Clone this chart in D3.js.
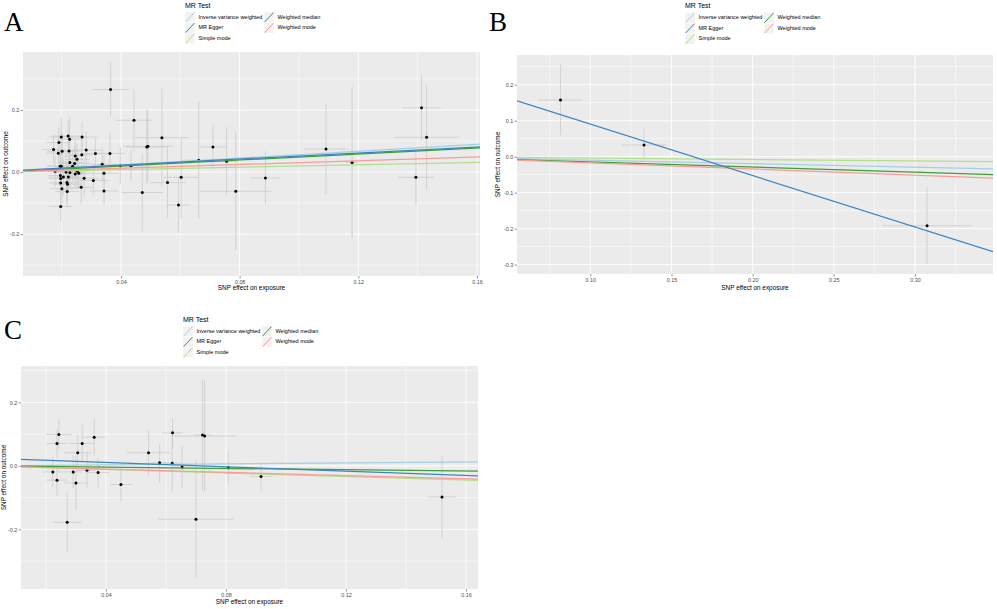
<!DOCTYPE html>
<html>
<head>
<meta charset="utf-8">
<script src="https://cdn.jsdelivr.net/npm/d3@7"></script>
<style>
  body { margin: 0; background: #fff; }
  svg { display: block; }
  text { font-family: "Liberation Sans", Arial, sans-serif; }
</style>
</head>
<body>
<svg id="chart" width="997" height="609"></svg>
<script>
// MR methods, legend order (two columns, filled by column)
const methods = ["Inverse variance weighted", "MR Egger", "Simple mode", "Weighted median", "Weighted mode"];
const methodColors = ["#a6cee3", "#3d85c0", "#b2df8a", "#3ba035", "#fb9a99"];
// draw order of the fitted lines (MR Egger on top)
const drawOrder = [0, 2, 3, 4, 1];

// SNP estimates: [beta exposure, beta outcome, se exposure, se outcome]
const snpA = [
  [0.0173, 0.073, 0.004, 0.045], [0.0191, 0.095, 0.004, 0.05], [0.0199, 0.113, 0.004, 0.06],
  [0.0222, 0.116, 0.005, 0.05], [0.0227, 0.106, 0.004, 0.07], [0.0269, 0.113, 0.005, 0.05],
  [0.0189, 0.061, 0.004, 0.05], [0.0202, 0.067, 0.005, 0.06], [0.0225, 0.068, 0.004, 0.055],
  [0.0283, 0.071, 0.005, 0.06], [0.0268, 0.056, 0.004, 0.05], [0.0246, 0.052, 0.004, 0.055],
  [0.0314, 0.060, 0.005, 0.05], [0.0363, 0.060, 0.005, 0.065], [0.0195, 0.019, 0.004, 0.06],
  [0.0199, 0.019, 0.005, 0.05], [0.0228, 0.031, 0.004, 0.06], [0.0252, 0.041, 0.004, 0.05],
  [0.0244, 0.028, 0.005, 0.055], [0.0237, 0.019, 0.004, 0.05], [0.0178, 0.003, 0.004, 0.05],
  [0.0215, 0.000, 0.004, 0.06], [0.0228, -0.001, 0.005, 0.05], [0.0253, 0.003, 0.004, 0.06],
  [0.0258, -0.004, 0.004, 0.05], [0.0196, -0.011, 0.004, 0.05], [0.0206, -0.016, 0.005, 0.06],
  [0.0223, -0.016, 0.004, 0.05], [0.0246, -0.006, 0.004, 0.05], [0.0197, -0.021, 0.004, 0.05],
  [0.0218, -0.034, 0.004, 0.06], [0.0220, -0.039, 0.005, 0.05], [0.0197, -0.035, 0.004, 0.055],
  [0.0276, -0.020, 0.005, 0.06], [0.0307, -0.027, 0.005, 0.05], [0.0343, -0.004, 0.005, 0.06],
  [0.0266, -0.049, 0.004, 0.055], [0.0201, -0.054, 0.004, 0.05], [0.0219, -0.063, 0.004, 0.05],
  [0.0343, -0.061, 0.005, 0.045], [0.0197, -0.111, 0.004, 0.05], [0.0337, 0.025, 0.005, 0.055],
  [0.0398, 0.020, 0.003, 0.06], [0.0434, 0.020, 0.004, 0.05], [0.0365, 0.266, 0.006, 0.088],
  [0.0444, 0.167, 0.006, 0.10], [0.0487, 0.081, 0.007, 0.12], [0.0491, 0.083, 0.0084, 0.115],
  [0.0538, 0.111, 0.009, 0.158], [0.0472, -0.066, 0.007, 0.126], [0.0557, -0.034, 0.006, 0.113],
  [0.0603, -0.017, 0.006, 0.13], [0.0594, -0.106, 0.004, 0.09], [0.0662, 0.038, 0.006, 0.187],
  [0.0710, 0.081, 0.0045, 0.07], [0.0756, 0.035, 0.004, 0.11], [0.0787, -0.062, 0.012, 0.19],
  [0.0887, -0.019, 0.005, 0.086], [0.1091, 0.074, 0.0073, 0.145], [0.1179, 0.031, 0.002, 0.244],
  [0.1413, 0.207, 0.0065, 0.106], [0.1430, 0.112, 0.011, 0.17], [0.1394, -0.017, 0.006, 0.09]
];
const snpB = [
  [0.0817, 0.1575, 0.0137, 0.098], [0.1331, 0.0325, 0.0139, 0.045], [0.3074, -0.1917, 0.0275, 0.107]
];
const snpC = [
  [0.0243, 0.099, 0.0042, 0.046], [0.0237, 0.0706, 0.0035, 0.045], [0.0223, -0.019, 0.0035, 0.047],
  [0.0237, -0.045, 0.0035, 0.05], [0.0271, -0.178, 0.0047, 0.095], [0.0291, -0.019, 0.003, 0.052],
  [0.0300, -0.054, 0.0038, 0.085], [0.0306, 0.041, 0.0046, 0.06], [0.0321, 0.0706, 0.0042, 0.06],
  [0.0337, -0.0136, 0.003, 0.058], [0.0361, 0.0905, 0.0039, 0.058], [0.0374, -0.021, 0.0037, 0.047],
  [0.0450, -0.059, 0.0036, 0.053], [0.0542, 0.0414, 0.0072, 0.071], [0.0579, 0.0095, 0.003, 0.06],
  [0.0622, 0.104, 0.0035, 0.046], [0.0621, 0.0085, 0.003, 0.09], [0.0654, -0.004, 0.003, 0.066],
  [0.0700, -0.168, 0.0125, 0.186], [0.0722, 0.097, 0.003, 0.175], [0.0729, 0.094, 0.0107, 0.176],
  [0.0808, -0.0063, 0.003, 0.05], [0.0917, -0.0335, 0.0039, 0.045], [0.1520, -0.098, 0.0048, 0.131]
];

// Fitted MR estimates, same order as `methods`
const slopesA = [0.56, 0.488, 0.195, 0.485, 0.305];
const interceptsA = [0, 0.003, 0, 0, 0];
const slopesB = [-0.098, -1.43, -0.04, -0.144, -0.172];
const interceptsB = [0, 0.2335, 0, 0, 0];
const slopesC = [0.077, -0.338, -0.28, -0.102, -0.256];
const interceptsC = [0, 0.024, 0, 0, 0];

// Tick values
const xTicksAC = [0.04, 0.08, 0.12, 0.16];
const xMinorAC = [0.02, 0.06, 0.10, 0.14];
const yTicksAC = [-0.2, 0, 0.2];
const yMinorAC = [-0.3, -0.1, 0.1, 0.3];
const xTicksB = [0.10, 0.15, 0.20, 0.25, 0.30];
const xMinorB = [0.075, 0.125, 0.175, 0.225, 0.275, 0.325];
const yTicksB = [-0.3, -0.2, -0.1, 0, 0.1, 0.2];
const yMinorB = [-0.25, -0.15, -0.05, 0.05, 0.15, 0.25];

const locale = d3.formatLocale({decimal: ".", thousands: ",", grouping: [3], currency: ["", ""], minus: "-"});
const fmtX = locale.format(".2f");
const fmtY = locale.format(".1f");

const panels = [
  {label: "A", labelX: 4, labelY: 31, left: 23, right: 480, top: 52, bottom: 276,
   xDomain: [0.007, 0.161], yDomain: [-0.335, 0.387],
   xTicks: xTicksAC, xMinor: xMinorAC, yTicks: yTicksAC, yMinor: yMinorAC,
   data: snpA, slopes: slopesA, intercepts: interceptsA,
   legendX: 185, legendY: 6, xTitleY: 288.5, yTitleX: 6.5},
  {label: "B", labelX: 489, labelY: 31, left: 517, right: 993, top: 55, bottom: 274,
   xDomain: [0.0549, 0.348], yDomain: [-0.326, 0.2825],
   xTicks: xTicksB, xMinor: xMinorB, yTicks: yTicksB, yMinor: yMinorB,
   data: snpB, slopes: slopesB, intercepts: interceptsB,
   legendX: 685, legendY: 6.5, xTitleY: 288, yTitleX: 498.8},
  {label: "C", labelX: 4, labelY: 339, left: 21, right: 478, top: 366, bottom: 589,
   xDomain: [0.0117, 0.164], yDomain: [-0.388, 0.3146],
   xTicks: xTicksAC, xMinor: xMinorAC, yTicks: yTicksAC, yMinor: yMinorAC,
   data: snpC, slopes: slopesC, intercepts: interceptsC,
   legendX: 183, legendY: 320, xTitleY: 602.5, yTitleX: 4.5}
];

const svg = d3.select("#chart");

const drawPanel = (p) => {
  let x = d3.scaleLinear().domain(p.xDomain).range([p.left, p.right]);
  let y = d3.scaleLinear().domain(p.yDomain).range([p.bottom, p.top]);
  let g = svg.append("g").attr("class", `panel-${p.label}`);

  // Panel letter
  g.append("text")
    .attr("x", p.labelX)
    .attr("y", p.labelY)
    .style("font-family", "'Liberation Serif', 'Times New Roman', serif")
    .style("font-size", "27px")
    .text(p.label);

  // Background and grid
  g.append("rect")
    .attr("x", p.left).attr("y", p.top)
    .attr("width", p.right - p.left).attr("height", p.bottom - p.top)
    .style("fill", "#ebebeb");

  g.selectAll("line.minor-x").data(p.xMinor.filter(v => v > p.xDomain[0] && v < p.xDomain[1]))
    .join("line").attr("class", "minor-x")
    .attr("x1", d => x(d)).attr("x2", d => x(d)).attr("y1", p.top).attr("y2", p.bottom)
    .style("stroke", "#fff").style("stroke-width", 0.5);
  g.selectAll("line.minor-y").data(p.yMinor.filter(v => v > p.yDomain[0] && v < p.yDomain[1]))
    .join("line").attr("class", "minor-y")
    .attr("y1", d => y(d)).attr("y2", d => y(d)).attr("x1", p.left).attr("x2", p.right)
    .style("stroke", "#fff").style("stroke-width", 0.5);
  g.selectAll("line.major-x").data(p.xTicks)
    .join("line").attr("class", "major-x")
    .attr("x1", d => x(d)).attr("x2", d => x(d)).attr("y1", p.top).attr("y2", p.bottom)
    .style("stroke", "#fff").style("stroke-width", 0.9);
  g.selectAll("line.major-y").data(p.yTicks)
    .join("line").attr("class", "major-y")
    .attr("y1", d => y(d)).attr("y2", d => y(d)).attr("x1", p.left).attr("x2", p.right)
    .style("stroke", "#fff").style("stroke-width", 0.9);

  // Clip marks to the panel
  let clipId = `clip-${p.label}`;
  g.append("clipPath").attr("id", clipId)
    .append("rect")
    .attr("x", p.left).attr("y", p.top)
    .attr("width", p.right - p.left).attr("height", p.bottom - p.top);
  let marks = g.append("g").attr("clip-path", `url(#${clipId})`);

  // Error bars
  marks.selectAll("line.err-y").data(p.data)
    .join("line").attr("class", "err-y")
    .attr("x1", d => x(d[0])).attr("x2", d => x(d[0]))
    .attr("y1", d => y(d[1] - d[3])).attr("y2", d => y(d[1] + d[3]))
    .style("stroke", "#cbcbcb").style("stroke-width", 0.8);
  marks.selectAll("line.err-x").data(p.data)
    .join("line").attr("class", "err-x")
    .attr("x1", d => x(d[0] - d[2])).attr("x2", d => x(d[0] + d[2]))
    .attr("y1", d => y(d[1])).attr("y2", d => y(d[1]))
    .style("stroke", "#cbcbcb").style("stroke-width", 0.8);

  // Points
  marks.selectAll("circle.snp").data(p.data)
    .join("circle").attr("class", "snp")
    .attr("cx", d => x(d[0])).attr("cy", d => y(d[1]))
    .attr("r", 1.5)
    .style("fill", "#000");

  // MR fits (abline across the panel)
  let fits = methods.map((m, i) => ({m: m, a: p.intercepts[i], b: p.slopes[i], color: methodColors[i]}));
  marks.selectAll("line.fit").data(drawOrder.map(i => fits[i]))
    .join("line").attr("class", "fit")
    .attr("x1", x(p.xDomain[0])).attr("x2", x(p.xDomain[1]))
    .attr("y1", d => y(d.a + d.b * p.xDomain[0]))
    .attr("y2", d => y(d.a + d.b * p.xDomain[1]))
    .style("stroke", d => d.color)
    .style("stroke-width", 1.25);

  // Axes
  let xAxis = d3.axisBottom(x).tickValues(p.xTicks).tickFormat(fmtX).tickSize(2.5).tickPadding(1.5);
  let yAxis = d3.axisLeft(y).tickValues(p.yTicks).tickFormat(fmtY).tickSize(2.5).tickPadding(1.2);
  let xg = g.append("g").attr("transform", `translate(0, ${p.bottom})`).call(xAxis);
  let yg = g.append("g").attr("transform", `translate(${p.left}, 0)`).call(yAxis);
  [xg, yg].forEach(ax => {
    ax.select(".domain").remove();
    ax.selectAll("line").style("stroke", "#333").style("stroke-width", 0.5);
    ax.selectAll("text")
      .style("font-size", "5.4px")
      .style("fill", "#4d4d4d")
      .style("font-family", "'Liberation Sans', Arial, sans-serif");
  });

  // Axis titles
  g.append("text")
    .attr("x", (p.left + p.right) / 2)
    .attr("y", p.xTitleY)
    .attr("text-anchor", "middle")
    .attr("dominant-baseline", "middle")
    .style("font-size", "6.4px")
    .text("SNP effect on exposure");
  g.append("text")
    .attr("transform", `translate(${p.yTitleX}, ${(p.top + p.bottom) / 2}) rotate(-90)`)
    .attr("text-anchor", "middle")
    .attr("dominant-baseline", "middle")
    .style("font-size", "6.4px")
    .text("SNP effect on outcome");

  // Legend
  let legend = g.append("g").attr("transform", `translate(${p.legendX}, ${p.legendY})`);
  legend.append("text")
    .attr("x", 0).attr("y", 0)
    .attr("dominant-baseline", "middle")
    .style("font-size", "7px")
    .text("MR Test");
  let keyW = 10, keyH = 10.6, colGap = 79;
  let items = legend.selectAll("g.item").data(fits)
    .join("g").attr("class", "item")
    .attr("transform", (d, i) => {
      let col = Math.floor(i / 3), row = i % 3;
      return `translate(${col * colGap}, ${6 + row * keyH})`;
    });
  items.append("rect")
    .attr("width", keyW).attr("height", keyH)
    .style("fill", "#f2f2f2").style("stroke", "#fff").style("stroke-width", 0.5);
  items.append("line")
    .attr("x1", 0.5).attr("y1", keyH - 0.5).attr("x2", keyW - 0.5).attr("y2", 0.5)
    .style("stroke", d => d.color).style("stroke-width", 1);
  items.append("text")
    .attr("x", keyW + 3.5).attr("y", keyH / 2)
    .attr("dominant-baseline", "middle")
    .style("font-size", "5.5px")
    .text(d => d.m);
};

panels.forEach(drawPanel);
</script>
</body>
</html>
